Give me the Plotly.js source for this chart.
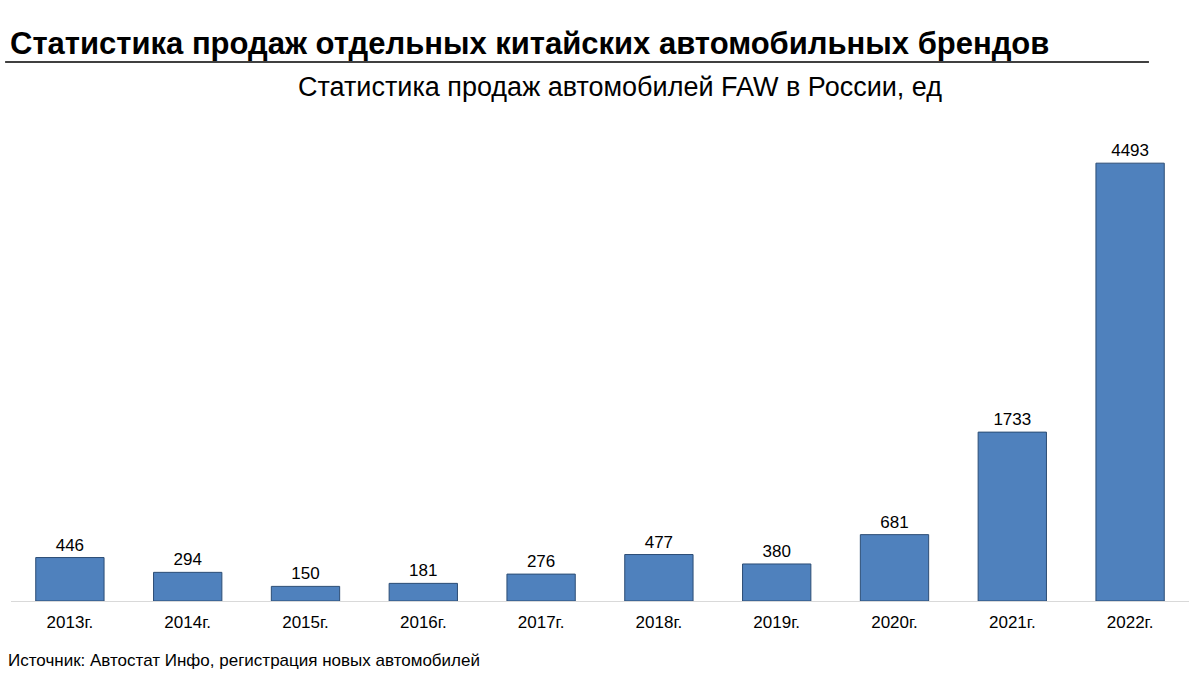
<!DOCTYPE html>
<html><head><meta charset="utf-8">
<script src="https://cdn.plot.ly/plotly-3.0.1.min.js"></script>
<style>html,body{margin:0;padding:0;background:#fff}#chart{width:1200px;height:675px}</style>
</head><body><div id="chart"></div>
<script>
var years = ["2013г.","2014г.","2015г.","2016г.","2017г.","2018г.","2019г.","2020г.","2021г.","2022г."];
var sales = [446, 294, 150, 181, 276, 477, 380, 681, 1733, 4493];
var mainTitle = "Статистика продаж отдельных китайских автомобильных брендов";
var subTitle = "Статистика продаж автомобилей FAW в России, ед";
var sourceText = "Источник: Автостат Инфо, регистрация новых автомобилей";

var font = "Liberation Sans, Arial, sans-serif";
var trace = {
  type: "bar", x: years, y: sales,
  text: sales.map(String), textposition: "outside", cliponaxis: false,
  textfont: {family: font, size: 17, color: "#000"},
  marker: {color: "#4f81bd", line: {color: "#2c4d75", width: 1}},
  hoverinfo: "none"
};
var ph = 675 - 143 - 74;
var layout = {
  width: 1200, height: 675,
  paper_bgcolor: "#fff", plot_bgcolor: "#fff",
  margin: {l: 11, r: 11, t: 143, b: 74},
  bargap: 0.42,
  showlegend: false,
  font: {family: font, color: "#000"},
  xaxis: {showline: true, linecolor: "#d9d9d9", linewidth: 1, ticks: "", ticklen: 0, ticklabelstandoff: 6,
          tickfont: {size: 17, color: "#000"}, showgrid: false, zeroline: false},
  yaxis: {range: [0, 4700], visible: false, showgrid: false, zeroline: false},
  annotations: [
    {xref: "paper", yref: "paper", x: 0, y: 1, xanchor: "left", yanchor: "bottom", xshift: -3, yshift: 80,
     text: "<b>" + mainTitle + "</b>", showarrow: false, font: {size: 31, color: "#000"}},
    {xref: "paper", yref: "paper", x: 0.517, y: 1, xanchor: "center", yanchor: "bottom", yshift: 39,
     text: subTitle, showarrow: false, font: {size: 27, color: "#000"}},
    {xref: "paper", yref: "paper", x: 0, y: 0, xanchor: "left", yanchor: "top", xshift: -5, yshift: -48,
     text: sourceText, showarrow: false, font: {size: 17, color: "#000"}}
  ],
  shapes: [
    {type: "line", xref: "paper", yref: "paper", x0: -0.005, x1: 0.966, y0: 1 + 81 / ph, y1: 1 + 81 / ph,
     line: {color: "#000", width: 1.5}}
  ]
};
Plotly.newPlot("chart", [trace], layout, {staticPlot: true});
</script></body></html>
